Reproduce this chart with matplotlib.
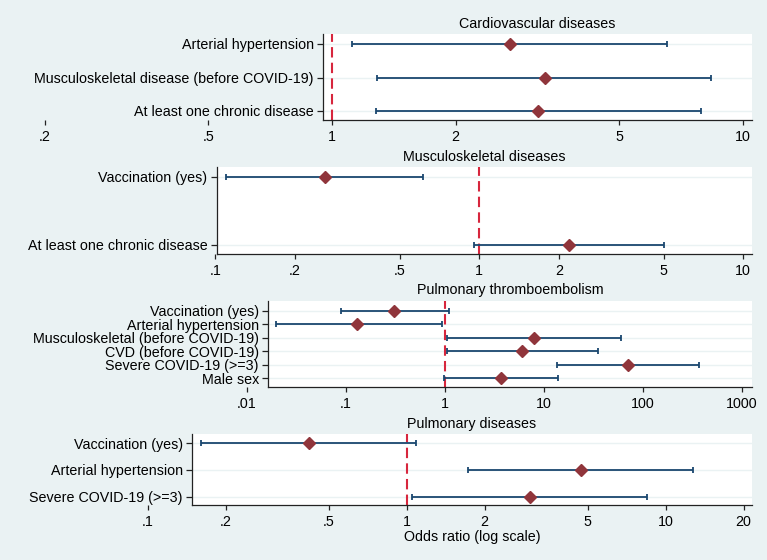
import matplotlib.pyplot as plt
import numpy as np
from matplotlib.ticker import NullLocator

plt.rcParams['font.family'] = ['Liberation Sans', 'DejaVu Sans']

# Cardiovascular diseases
cv_labels = ['Arterial hypertension', 'Musculoskeletal disease (before COVID-19)', 'At least one chronic disease']
cv_or = [2.71, 3.29, 3.18]
cv_lo = [1.12, 1.29, 1.28]
cv_hi = [6.52, 8.35, 7.89]
cv_ticks = [0.2, 0.5, 1, 2, 5, 10]
cv_ticklabels = ['.2', '.5', '1', '2', '5', '10']

# Musculoskeletal diseases
ms_labels = ['Vaccination (yes)', 'At least one chronic disease']
ms_or = [0.26, 2.19]
ms_lo = [0.11, 0.955]
ms_hi = [0.61, 5.0]
ms_ticks = [0.1, 0.2, 0.5, 1, 2, 5, 10]
ms_ticklabels = ['.1', '.2', '.5', '1', '2', '5', '10']

# Pulmonary thromboembolism
pte_labels = ['Vaccination (yes)', 'Arterial hypertension', 'Musculoskeletal (before COVID-19)',
              'CVD (before COVID-19)', 'Severe COVID-19 (>=3)', 'Male sex']
pte_or = [0.305, 0.13, 7.9, 6.0, 71, 3.68]
pte_lo = [0.089, 0.0196, 1.04, 1.04, 13.4, 0.98]
pte_hi = [1.10, 0.93, 59.5, 35.4, 370, 13.7]
pte_ticks = [0.01, 0.1, 1, 10, 100, 1000]
pte_ticklabels = ['.01', '.1', '1', '10', '100', '1000']

# Pulmonary diseases
pd_labels = ['Vaccination (yes)', 'Arterial hypertension', 'Severe COVID-19 (>=3)']
pd_or = [0.42, 4.7, 2.99]
pd_lo = [0.16, 1.72, 1.05]
pd_hi = [1.09, 12.8, 8.45]
pd_ticks = [0.1, 0.2, 0.5, 1, 2, 5, 10, 20]
pd_ticklabels = ['.1', '.2', '.5', '1', '2', '5', '10', '20']

BG = '#EAF2F3'
NAVY = '#1A476F'
MAROON = '#90353B'
RED = '#D7263D'
W, H = 767, 560
RIGHT = 752
FS = 10.3

fig = plt.figure(figsize=(W / 100, H / 100), dpi=100, facecolor=BG)


def panel(title, labels, ors, los, his, ticks, ticklabels, one, dec, left, top, bottom, first, last, xlabel=None):
    ors, los, his = np.asarray(ors), np.asarray(los), np.asarray(his)
    ax_left = min(one + np.log10(min(ticks)) * dec, left) - 12
    ax = fig.add_axes([ax_left / W, 1 - bottom / H, (RIGHT - ax_left) / W, (bottom - top) / H])
    ax.set_xscale('log')
    ax.set_xlim(10 ** ((ax_left - one) / dec), 10 ** ((RIGHT - one) / dec))
    x0 = 10 ** ((left - one) / dec)
    x1 = ax.get_xlim()[1]
    n = len(labels)
    y = np.arange(n)
    step = (last - first) / (n - 1)
    ax.set_ylim(n - 1 + (bottom - last) / step, -(first - top) / step)

    ax.set_facecolor('none')
    ax.axvspan(x0, x1, color='white', lw=0, zorder=0)
    ax.hlines(y, x0, x1, color=BG, lw=1, zorder=1)
    ax.axvline(1, color=RED, lw=1.5, ls=(0, (5, 2.5)), zorder=2)
    ax.errorbar(ors, y, xerr=[ors - los, his - ors], fmt='none', ecolor=NAVY,
                elinewidth=1.3, capsize=2.5, capthick=1.3, zorder=3)
    ax.plot(ors, y, 'D', color=MAROON, ms=6.5, zorder=4)

    for s in ['top', 'right']:
        ax.spines[s].set_visible(False)
    ax.spines['left'].set_position(('data', x0))
    ax.spines['bottom'].set_bounds(x0, x1)
    for s in ['left', 'bottom']:
        ax.spines[s].set_linewidth(0.9)
        ax.spines[s].set_color('#222222')

    ax.set_yticks(y)
    ax.set_yticklabels(labels, fontsize=FS)
    ax.set_xticks(ticks)
    ax.set_xticklabels(ticklabels, fontsize=FS)
    ax.xaxis.set_minor_locator(NullLocator())
    ax.tick_params(axis='y', length=4.5, width=0.9, pad=2, color='#222222')
    ax.tick_params(axis='x', length=3.5, width=0.9, pad=4, color='#222222')

    xc = np.sqrt(x0 * x1)
    ax.annotate(title, xy=(xc, 1), xycoords=('data', 'axes fraction'), xytext=(0, 7.5),
                textcoords='offset points', ha='center', va='center', fontsize=FS)
    if xlabel:
        ax.annotate(xlabel, xy=(xc, 0), xycoords=('data', 'axes fraction'), xytext=(0, -23),
                    textcoords='offset points', ha='center', va='center', fontsize=FS)
    return ax


panel('Cardiovascular diseases', cv_labels, cv_or, cv_lo, cv_hi, cv_ticks, cv_ticklabels,
      332, 411, 323, 34, 120, 44, 111)
panel('Musculoskeletal diseases', ms_labels, ms_or, ms_lo, ms_hi, ms_ticks, ms_ticklabels,
      479.3, 264, 216.5, 167, 254, 176.7, 245)
panel('Pulmonary thromboembolism', pte_labels, pte_or, pte_lo, pte_hi, pte_ticks, pte_ticklabels,
      445, 99, 268, 300.7, 386.7, 310.7, 378.3)
panel('Pulmonary diseases', pd_labels, pd_or, pd_lo, pd_hi, pd_ticks, pd_ticklabels,
      406.7, 259, 192, 434, 505, 443.3, 496.7, xlabel='Odds ratio (log scale)')

fig.savefig('out.png', dpi=100, facecolor=BG)
